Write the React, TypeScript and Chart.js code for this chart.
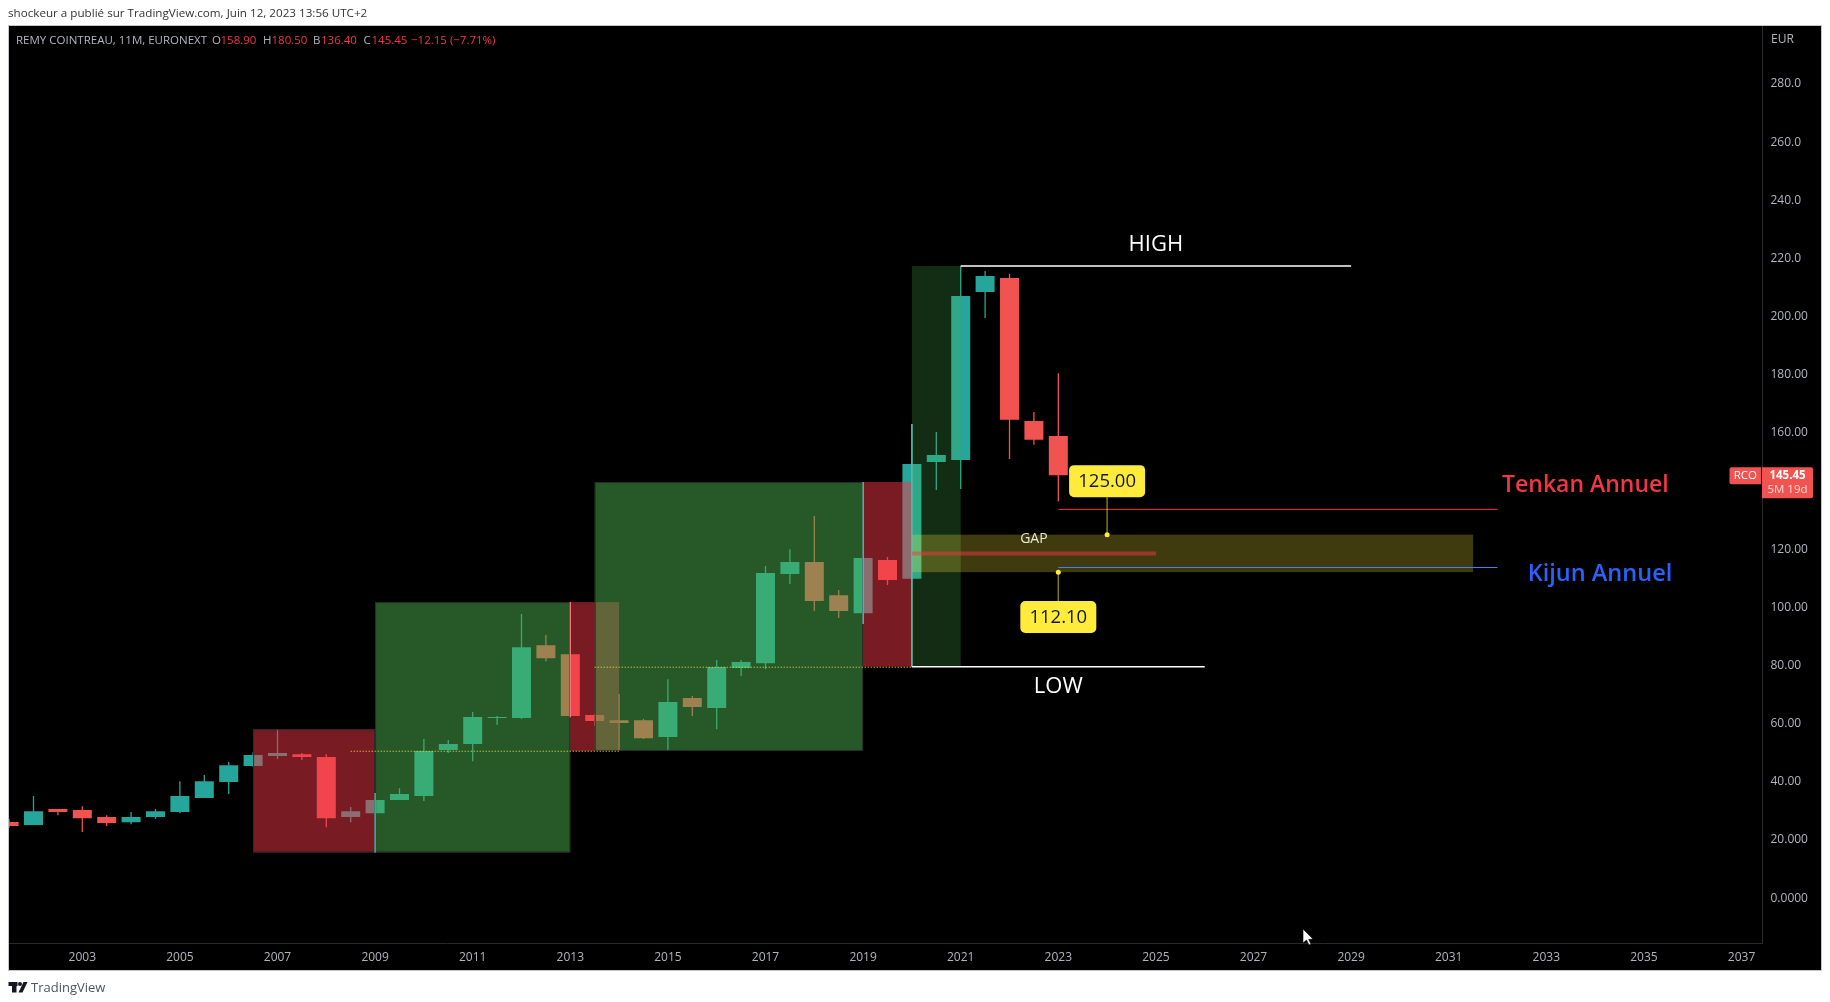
import React, { useEffect, useRef } from "react";
import { Chart, registerables } from "chart.js";

Chart.register(...registerables);

const candleYears = [2001.5, 2002, 2002.5, 2003, 2003.5, 2004, 2004.5, 2005, 2005.5, 2006, 2006.5, 2007, 2007.5, 2008, 2008.5, 2009, 2009.5, 2010, 2010.5, 2011, 2011.5, 2012, 2012.5, 2013, 2013.5, 2014, 2014.5, 2015, 2015.5, 2016, 2016.5, 2017, 2017.5, 2018, 2018.5, 2019, 2019.5, 2020, 2020.5, 2021, 2021.5, 2022, 2022.5, 2023];
const candleOpen = [26.2, 25.1, 30.6, 30.3, 27.9, 26.1, 27.9, 29.6, 34.4, 39.9, 45.4, 48.9, 49.5, 48.5, 27.9, 29.2, 33.7, 35.1, 50.9, 53, 61.9, 61.9, 87, 83.9, 63, 61.2, 61.2, 55.4, 68.8, 65.4, 79.1, 80.8, 111.5, 115.6, 104.2, 98, 116.3, 109.8, 150, 150.7, 208.5, 213.3, 164.1, 158.9];
const candleClose = [24.8, 29.9, 29.6, 27.5, 25.8, 27.9, 29.9, 35.1, 40.2, 45.7, 49.2, 49.9, 48.5, 27.5, 29.9, 33.7, 35.8, 50.6, 53, 62.3, 62.3, 86.3, 82.5, 62.6, 60.9, 60.2, 55, 67.4, 65.7, 79.5, 81.2, 111.8, 115.6, 102.2, 98.7, 117, 109.4, 149.3, 152.4, 207.1, 214, 164.5, 157.6, 145.45];
const candleHigh = [27.2, 35.1, 30.6, 31.6, 28.5, 29.6, 30.6, 40.2, 42.3, 46.8, 50.2, 58.1, 49.9, 49.5, 31.3, 36.1, 37.8, 54.7, 54.4, 64, 62.6, 97.7, 90.5, 101.8, 63.3, 70.2, 61.6, 75.3, 69.5, 81.9, 81.9, 114.2, 120, 131.4, 106, 143.1, 117.3, 163.1, 160.3, 217.4, 215.7, 214.7, 167.2, 180.5];
const candleLow = [24.2, 25.1, 28.5, 22.7, 24.8, 25.4, 27.2, 29.2, 34.4, 35.8, 45.1, 47.8, 47.5, 24.4, 26.1, 15.7, 33.7, 33.4, 49.9, 47.1, 59.5, 61.6, 81.5, 62.2, 59.2, 50.6, 54.7, 50.6, 62.6, 58.1, 76.4, 78.8, 108, 98.7, 96.3, 94.3, 107.7, 79.6, 140.4, 140.7, 199.5, 151, 155.9, 136.4];
// Candles whose wick sits on a rectangle's edge and stays visible above it
const edgeWickYears = [2009, 2013, 2019, 2020];

const xTickYears = [2003, 2005, 2007, 2009, 2011, 2013, 2015, 2017, 2019, 2021, 2023, 2025, 2027, 2029, 2031, 2033, 2035, 2037];
const yTickValues = [280, 260, 240, 220, 200, 180, 160, 120, 100, 80, 60, 40, 20, 0];
const yTickLabels = ["280.0", "260.0", "240.0", "220.0", "200.00", "180.00", "160.00", "120.00", "100.00", "80.00", "60.00", "40.00", "20.000", "0.0000"];

// Rectangles: [startYear, endYear, top, bottom]
const redBox1 = [2006.5, 2009, 58.1, 15.7];
const greenBox1 = [2009, 2013, 101.8, 15.7];
const redBox2 = [2013, 2014, 101.8, 50.6];
const greenBox2 = [2013.5, 2019, 143.1, 50.6];
const redBox3 = [2019, 2020, 143.1, 79.6];
const darkGreenBox = [2020, 2021, 217.4, 79.6];
const gapBox = [2020, 2031.5, 125, 112.1];

// Horizontal levels: [startYear, endYear, price]
const highLine = [2021, 2029, 217.4];
const lowLine = [2020, 2026, 79.6];
const tenkanLine = [2023, 2032, 133.7];
const kijunLine = [2023, 2032, 113.7];
const gapMidLine = [2020, 2025, 118.5];
const dotted1 = [2008.5, 2014, 50.5];
const dotted2 = [2013.5, 2020, 79.4];

const callout125 = [2024, 125, 137.9];
const callout112 = [2023, 112.1, 102.2];

const FONT = '"Open Sans", "Noto Sans", sans-serif';
const UP = "#26a69a";
const DOWN = "#f05350";

const hLine = (label: string, l: number[], color: string, width: number, dash?: number[]) => ({
  type: "line",
  label,
  data: [{ x: l[0], y: l[2] }, { x: l[1], y: l[2] }],
  borderColor: color,
  borderWidth: width,
  borderDash: dash || [],
  pointRadius: 0,
  order: 1,
});

const stem = (label: string, c: number[]) => ({
  type: "line",
  label,
  data: [{ x: c[0], y: c[1] }, { x: c[0], y: c[2] }],
  borderColor: "rgba(255,235,59,0.5)",
  borderWidth: 1.5,
  pointRadius: [2.5, 0],
  pointBackgroundColor: "#ffeb3b",
  pointBorderWidth: 0,
  order: 0,
});

const plugin = {
  id: "tvPaint",
  beforeDraw(chart: any) {
    const c = chart.ctx;
    c.save();
    c.fillStyle = "#ffffff";
    c.fillRect(0, 0, 1830, 1002);
    c.fillStyle = "#000000";
    c.fillRect(9, 26, 1812, 944);
    c.strokeStyle = "#c4c6ce";
    c.lineWidth = 1;
    c.strokeRect(8.5, 25.5, 1813, 945);
    c.restore();
  },
  afterDatasetDraw(chart: any, args: any) {
    if (args.index !== 1) return;
    const x = chart.scales.x;
    const y = chart.scales.y;
    const c = chart.ctx;
    const rect = (b: number[], fill: string, border?: string) => {
      const x0 = x.getPixelForValue(b[0]);
      const x1 = x.getPixelForValue(b[1]);
      const y0 = y.getPixelForValue(b[2]);
      const y1 = y.getPixelForValue(b[3]);
      c.fillStyle = fill;
      c.fillRect(x0, y0, x1 - x0, y1 - y0);
      if (border) {
        c.strokeStyle = border;
        c.lineWidth = 1;
        c.strokeRect(x0 + 0.5, y0 + 0.5, x1 - x0 - 1, y1 - y0 - 1);
      }
    };
    c.save();
    c.beginPath();
    c.rect(chart.chartArea.left, chart.chartArea.top, chart.chartArea.width, chart.chartArea.height);
    c.clip();
    rect(redBox1, "rgba(242,54,69,0.5)", "#2a2a2c");
    rect(greenBox1, "rgba(76,175,80,0.5)", "#2a2a2c");
    rect(redBox2, "rgba(242,54,69,0.5)");
    rect(greenBox2, "rgba(76,175,80,0.5)", "#2a2a2c");
    rect(redBox3, "rgba(242,54,69,0.5)");
    rect(darkGreenBox, "rgba(76,175,80,0.25)");
    rect(gapBox, "rgba(255,235,59,0.25)");
    c.restore();
  },
  afterDraw(chart: any) {
    const c = chart.ctx;
    const x = chart.scales.x;
    const y = chart.scales.y;
    const text = (s: string, px: number, py: number, font: string, color: string, align: CanvasTextAlign = "left") => {
      c.font = font;
      c.fillStyle = color;
      c.textAlign = align;
      c.textBaseline = "middle";
      c.fillText(s, px, py);
    };
    c.save();

    text("shockeur a publié sur TradingView.com, Juin 12, 2023 13:56 UTC+2", 8, 14, `11.65px ${FONT}`, "#333333");
    const grey = "#b2b5be";
    const red = "#f23645";
    const f12 = `11.5px ${FONT}`;
    const ly = 41;
    text("REMY COINTREAU, 11M, EURONEXT", 16, ly, f12, grey);
    text("O", 212, ly, f12, grey);
    text("158.90", 220.5, ly, f12, red);
    text("H", 263, ly, f12, grey);
    text("180.50", 271.5, ly, f12, red);
    text("B", 313, ly, f12, grey);
    text("136.40", 321, ly, f12, red);
    text("C", 363.5, ly, f12, grey);
    text("145.45", 371.5, ly, f12, red);
    text("−12.15 (−7.71%)", 411, ly, f12, red);
    text("EUR", 1771, 40, `12px ${FONT}`, grey);

    // Drawn labels anchored on the price scale
    const at = (s: string, yr: number, v: number, font: string, color: string) =>
      text(s, x.getPixelForValue(yr), y.getPixelForValue(v), `${font} ${FONT}`, color, "center");
    at("HIGH", 2025, 224.6, "500 22px", "#ffffff");
    at("LOW", 2023, 72.7, "500 22px", "#ffffff");
    at("GAP", 2022.5, 123.4, "14px", "#e8e8d8");
    at("Tenkan Annuel", 2033.8, 141.8, "600 23px", "#f23645");
    at("Kijun Annuel", 2034.1, 111.3, "600 23.5px", "#2962ff");

    // Price callouts
    const callout = (cfg: number[], s: string, above: boolean) => {
      const cx = x.getPixelForValue(cfg[0]);
      const edge = y.getPixelForValue(cfg[2]);
      const h = 32;
      const w = 76;
      const top = above ? edge - h : edge;
      c.fillStyle = "#ffeb3b";
      c.beginPath();
      c.roundRect(cx - w / 2, top, w, h, 5);
      c.fill();
      text(s, cx, top + h / 2 + 0.5, `18.5px ${FONT}`, "#131722", "center");
    };
    callout(callout125, "125.00", true);
    callout(callout112, "112.10", false);

    // Price tags on the axis
    const lastY = y.getPixelForValue(candleClose[candleClose.length - 1]);
    c.fillStyle = DOWN;
    c.beginPath();
    c.roundRect(1729.5, lastY - 8, 31.5, 17, [2, 0, 0, 2]);
    c.fill();
    c.beginPath();
    c.roundRect(1762, lastY - 8, 51, 31, [0, 2, 2, 0]);
    c.fill();
    text("RCO", 1745.3, lastY + 0.8, `11.5px ${FONT}`, "#ffffff", "center");
    text("145.45", 1787.5, lastY + 0.8, `bold 11.5px ${FONT}`, "#ffffff", "center");
    text("5M 19d", 1787.5, lastY + 15, `11.5px ${FONT}`, "#ffd9d9", "center");

    // Footer logo
    c.fillStyle = "#131722";
    c.fillRect(8.5, 982, 9, 4);
    c.fillRect(12, 982, 4.5, 10.5);
    c.beginPath();
    c.arc(20, 984, 2, 0, Math.PI * 2);
    c.fill();
    c.beginPath();
    c.moveTo(23.5, 982);
    c.lineTo(27.5, 982);
    c.lineTo(22.5, 992.5);
    c.lineTo(18.5, 992.5);
    c.closePath();
    c.fill();
    text("TradingView", 31, 988.5, `13px ${FONT}`, "#50535e");

    // Mouse cursor
    c.fillStyle = "#ffffff";
    c.strokeStyle = "#000000";
    c.lineWidth = 0.6;
    c.beginPath();
    c.moveTo(1303, 929);
    c.lineTo(1303, 943);
    c.lineTo(1306.5, 940);
    c.lineTo(1309, 945);
    c.lineTo(1311, 944);
    c.lineTo(1308.7, 939.5);
    c.lineTo(1313, 939);
    c.closePath();
    c.fill();
    c.stroke();

    c.restore();
  },
};

export default function App() {
  const ref = useRef<HTMLCanvasElement | null>(null);

  useEffect(() => {
    document.body.style.margin = "0";
    document.body.style.background = "#ffffff";
    const colors = candleOpen.map((o, i) => (candleClose[i] >= o ? UP : DOWN));
    const edgeIdx = edgeWickYears.map((t) => candleYears.indexOf(t));
    const chart = new Chart(ref.current as HTMLCanvasElement, {
      type: "bar",
      data: {
        datasets: [
          {
            label: "wick",
            data: candleYears.map((t, i) => ({ x: t, y: [candleLow[i], candleHigh[i]] })),
            backgroundColor: colors,
            barThickness: 1.3,
            grouped: false,
            inflateAmount: 0,
            order: 10,
          },
          {
            label: "body",
            data: candleYears.map((t, i) => ({ x: t, y: [candleOpen[i], candleClose[i]] })),
            backgroundColor: colors,
            barThickness: 19,
            grouped: false,
            inflateAmount: 0,
            order: 9,
          },
          {
            label: "edgeWick",
            data: edgeIdx.map((i) => ({ x: candleYears[i], y: [candleLow[i], candleHigh[i]] })),
            backgroundColor: edgeIdx.map((i) => (candleClose[i] >= candleOpen[i] ? "#62bdb0" : "#ff7474")),
            barThickness: 1.3,
            grouped: false,
            inflateAmount: 0,
            order: 8,
          },
          hLine("High", highLine, "#ffffff", 1.5),
          hLine("Low", lowLine, "#ffffff", 1.5),
          hLine("Tenkan", tenkanLine, "#f23645", 1),
          hLine("Kijun", kijunLine, "#4a7df0", 1),
          hLine("GapMid", gapMidLine, "rgba(242,54,69,0.5)", 4),
          hLine("Dotted1", dotted1, "#ffeb3b", 1, [1, 2]),
          hLine("Dotted2", dotted2, "#ffeb3b", 1, [1, 2]),
          stem("Callout125", callout125),
          stem("Callout112", callout112),
        ] as any,
      },
      options: {
        responsive: false,
        animation: false,
        devicePixelRatio: 1,
        events: [],
        layout: { padding: { left: 9, top: 26, right: 8.5, bottom: 32 } },
        plugins: { legend: { display: false }, tooltip: { enabled: false } },
        scales: {
          x: {
            type: "linear",
            position: "bottom",
            offset: false,
            min: 2001.498,
            max: 2037.43,
            afterFit: (s: any) => { s.height = 27; },
            afterBuildTicks: (s: any) => { s.ticks = xTickYears.map((v) => ({ value: v })); },
            grid: { display: false, drawTicks: false },
            border: { display: true, color: "#2a2a2c", width: 1 },
            ticks: {
              autoSkip: false,
              maxRotation: 0,
              color: "#b2b5be",
              padding: 7,
              font: { family: FONT, size: 12 },
              callback: (v: any) => String(v),
            },
          },
          y: {
            type: "linear",
            position: "right",
            min: -15.45,
            max: 299.95,
            afterFit: (s: any) => { s.width = 59; },
            afterBuildTicks: (s: any) => { s.ticks = yTickValues.map((v) => ({ value: v })); },
            grid: { display: false, drawTicks: false },
            border: { display: true, color: "#2a2a2c", width: 1 },
            ticks: {
              autoSkip: false,
              color: "#b2b5be",
              padding: 8,
              font: { family: FONT, size: 12 },
              callback: (v: any) => yTickLabels[yTickValues.indexOf(v)] ?? "",
            },
          },
        },
      } as any,
      plugins: [plugin] as any,
    });
    return () => chart.destroy();
  }, []);

  return (
    <div style={{ width: 1830, height: 1002, position: "relative", overflow: "hidden" }}>
      <canvas ref={ref} width={1830} height={1002} style={{ display: "block" }} />
    </div>
  );
}
